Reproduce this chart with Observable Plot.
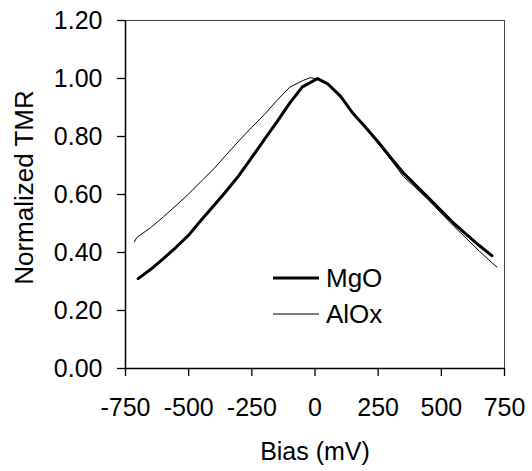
<!DOCTYPE html>
<html>
<head>
<meta charset="utf-8">
<script src="https://cdn.jsdelivr.net/npm/d3@7"></script>
<script src="https://cdn.jsdelivr.net/npm/@observablehq/plot@0.6"></script>
<style>
  html, body { margin: 0; padding: 0; background: #fff; }
  #chart svg { display: block; }
</style>
</head>
<body>
<div id="chart"></div>
<script>
// Bias (mV) and normalized TMR for MgO junction (thick line)
const mgoBias = [-700, -650, -600, -550, -500, -450, -400, -350, -300, -250, -200, -150, -100, -50, 0, 10, 50, 100, 150, 200, 250, 300, 350, 400, 450, 500, 550, 600, 650, 700];
const mgoTMR  = [0.310, 0.342, 0.379, 0.418, 0.460, 0.512, 0.562, 0.613, 0.667, 0.728, 0.790, 0.851, 0.915, 0.971, 0.995, 1.000, 0.982, 0.940, 0.880, 0.832, 0.781, 0.727, 0.674, 0.631, 0.588, 0.544, 0.500, 0.462, 0.424, 0.389];

// Bias (mV) and normalized TMR for AlOx junction (thin line)
const aloxBias = [-715, -705, -650, -600, -550, -500, -450, -400, -350, -300, -250, -200, -150, -100, -50, -20, 0, 50, 100, 150, 200, 250, 300, 350, 400, 450, 500, 550, 600, 650, 700, 720];
const aloxTMR  = [0.437, 0.452, 0.486, 0.523, 0.562, 0.602, 0.646, 0.689, 0.738, 0.786, 0.832, 0.876, 0.925, 0.970, 0.992, 1.003, 1.000, 0.978, 0.935, 0.884, 0.830, 0.775, 0.720, 0.662, 0.622, 0.580, 0.535, 0.490, 0.448, 0.405, 0.365, 0.350];

const xTicks = [-750, -500, -250, 0, 250, 500, 750];
const yTicks = [0, 0.2, 0.4, 0.6, 0.8, 1.0, 1.2];
const seriesNames = ["MgO", "AlOx"];
const xLabel = "Bias (mV)";
const yLabel = "Normalized TMR";

const mgo = mgoBias.map((b, i) => ({bias: b, tmr: mgoTMR[i]}));
const alox = aloxBias.map((b, i) => ({bias: b, tmr: aloxTMR[i]}));

const font = "'Liberation Sans', Arial, Helvetica, sans-serif";
const fs = 25;
const fsBig = 26;
const W = 532, H = 471;
const mL = 125, mR = 28, mT = 20, mB = 103;

const svg = Plot.plot({
  width: W,
  height: H,
  marginLeft: mL,
  marginRight: mR,
  marginTop: mT,
  marginBottom: mB,
  style: {fontFamily: font, fontSize: fs + "px", color: "#000", background: "#fff"},
  x: {domain: [-750, 750]},
  y: {domain: [0, 1.2]},
  marks: [
    Plot.ruleY([1.2], {stroke: "#444", strokeWidth: 1}),
    Plot.ruleX([750], {stroke: "#444", strokeWidth: 1}),
    Plot.ruleX([-750], {stroke: "#000", strokeWidth: 1.5}),
    Plot.ruleY([0], {stroke: "#000", strokeWidth: 1.5}),
    Plot.axisX({ticks: xTicks, tickFormat: d => String(d), tickSize: 8, tickPadding: 22, label: null, stroke: "#000", strokeWidth: 1.3}),
    Plot.axisY({ticks: yTicks, tickFormat: d3.format(".2f"), tickSize: 8, tickPadding: 15, label: null, stroke: "#000", strokeWidth: 1.3}),
    Plot.line(alox, {x: "bias", y: "tmr", stroke: "#000", strokeWidth: 1}),
    Plot.line(mgo, {x: "bias", y: "tmr", stroke: "#000", strokeWidth: 3}),
    Plot.text([xLabel], {frameAnchor: "bottom", dy: 83, lineAnchor: "middle", textAnchor: "middle", fontSize: fs, fill: "#000"}),
    Plot.text([yLabel], {frameAnchor: "left", dx: -101, dy: -7, rotate: -90, lineAnchor: "middle", textAnchor: "middle", fontSize: fsBig, fill: "#000"})
  ]
});

// Legend inside the plot area
const lg = d3.select(svg).append("g").attr("font-family", font).attr("font-size", fsBig).attr("text-anchor", "start");
const lx1 = mL + 148, lx2 = mL + 194, ltx = mL + 201;
const rows = [{name: seriesNames[0], w: 3, y: mT + 258}, {name: seriesNames[1], w: 1, y: mT + 294}];
rows.forEach(r => {
  lg.append("line").attr("x1", lx1).attr("x2", lx2).attr("y1", r.y).attr("y2", r.y)
    .attr("stroke", "#000").attr("stroke-width", r.w);
  lg.append("text").attr("x", ltx).attr("y", r.y).attr("dy", "0.35em").attr("fill", "#000").text(r.name);
});

document.getElementById("chart").appendChild(svg);
</script>
</body>
</html>
